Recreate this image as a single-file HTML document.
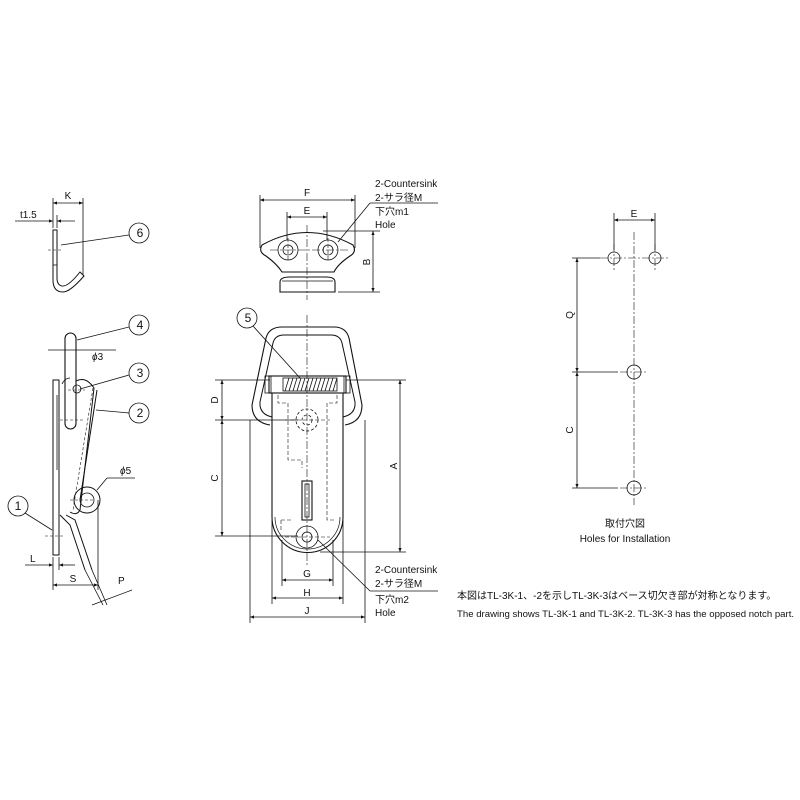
<!DOCTYPE html>
<html><head><meta charset="utf-8"><style>
html,body{margin:0;padding:0;background:#fff;}
svg{display:block}
text{font-family:"Liberation Sans","Noto Sans CJK JP",sans-serif;fill:#111}
</style></head><body>
<svg width="800" height="800" viewBox="0 0 800 800" xmlns="http://www.w3.org/2000/svg">
<defs>
<marker id="a" viewBox="0 0 10 10" refX="10" refY="5" markerWidth="7" markerHeight="5" orient="auto-start-reverse"><path d="M0,1L10,5L0,9z" fill="#111"/></marker>
</defs>
<g stroke="#111" fill="none" stroke-width="0.8">
<!-- ===== Right: holes for installation ===== -->
<g stroke-dasharray="8,2,2,2" stroke-width="0.6">
<line x1="634" y1="232" x2="634" y2="505"/>
<line x1="600" y1="258" x2="668" y2="258"/>
<line x1="614" y1="244" x2="614" y2="272"/>
<line x1="655" y1="244" x2="655" y2="272"/>
<line x1="620" y1="372" x2="648" y2="372"/>
<line x1="620" y1="488" x2="648" y2="488"/>
</g>
<circle cx="614" cy="258" r="6"/><circle cx="655" cy="258" r="6"/>
<circle cx="634" cy="372" r="7"/><circle cx="634" cy="488" r="7"/>
<line x1="614" y1="213" x2="614" y2="250"/><line x1="655" y1="213" x2="655" y2="250"/>
<line x1="614" y1="220" x2="655" y2="220" marker-start="url(#a)" marker-end="url(#a)"/>
<line x1="572" y1="258" x2="600" y2="258"/>
<line x1="572" y1="372" x2="618" y2="372"/>
<line x1="572" y1="488" x2="618" y2="488"/>
<line x1="577" y1="258" x2="577" y2="372" marker-start="url(#a)" marker-end="url(#a)"/>
<line x1="577" y1="372" x2="577" y2="488" marker-start="url(#a)" marker-end="url(#a)"/>

<!-- ===== Center top bracket ===== -->
<line x1="307" y1="225" x2="307" y2="300" stroke-dasharray="8,2,2,2" stroke-width="0.6"/>
<line x1="270" y1="250" x2="350" y2="250" stroke-dasharray="8,2,2,2" stroke-width="0.6"/>
<line x1="288" y1="238" x2="288" y2="262" stroke-dasharray="4,2" stroke-width="0.6"/>
<line x1="328" y1="238" x2="328" y2="262" stroke-dasharray="4,2" stroke-width="0.6"/>
<path d="M262,245 Q307,220 353,245 Q357,252 350,256 Q338,264 334,272 L282,272 Q277,264 266,256 Q258,252 262,245Z" stroke-width="1.1"/>
<circle cx="288" cy="250" r="10"/><circle cx="288" cy="250" r="5"/>
<circle cx="328" cy="250" r="10"/><circle cx="328" cy="250" r="5"/>
<path d="M280,292 L280,282 Q280,277 290,277 L326,277 Q335,277 335,282 L335,292 Z" stroke-width="1.1"/>
<line x1="282" y1="281" x2="333" y2="281"/>
<line x1="260" y1="195" x2="260" y2="248"/><line x1="355" y1="195" x2="355" y2="248"/>
<line x1="260" y1="200" x2="355" y2="200" marker-start="url(#a)" marker-end="url(#a)"/>
<line x1="287" y1="212" x2="287" y2="240"/><line x1="327" y1="212" x2="327" y2="240"/>
<line x1="287" y1="217" x2="327" y2="217" marker-start="url(#a)" marker-end="url(#a)"/>
<line x1="323" y1="231" x2="380" y2="231"/><line x1="338" y1="292" x2="380" y2="292"/>
<line x1="373" y1="231" x2="373" y2="292" marker-start="url(#a)" marker-end="url(#a)"/>
<line x1="338" y1="242" x2="370" y2="203"/><line x1="370" y1="203" x2="438" y2="203"/>

<!-- ===== Main body ===== -->
<line x1="307" y1="315" x2="307" y2="565" stroke-dasharray="8,2,2,2" stroke-width="0.6"/>
<!-- wire loop -->
<path d="M270,425 Q252,422 252,405 L266,338 Q269,327 282,327 L334,327 Q346,327 349,338 L362,405 Q362,422 345,425" stroke-width="1.1"/>
<path d="M272,417 Q259,414 260,402 L273,343 Q275,335 284,335 L331,335 Q340,335 342,343 L355,402 Q356,414 343,417" stroke-width="1"/>
<!-- body -->
<path d="M272,393 L272,517 A35.5,35.5 0 0 0 343,517 L343,393" stroke-width="1.1"/>
<path d="M275,517 A32.5,32 0 0 0 340,517" stroke-width="0.7"/>
<line x1="272" y1="393" x2="343" y2="393" stroke-width="1.1"/>
<!-- spring drum -->
<rect x="269" y="376" width="77" height="17" stroke-width="1.1"/>
<rect x="265" y="376" width="6" height="17"/><rect x="344" y="376" width="6" height="17"/>
<rect x="283" y="378" width="54" height="13"/>
<g stroke-width="0.8">
<line x1="285" y1="391" x2="289" y2="378"/><line x1="289" y1="391" x2="293" y2="378"/><line x1="293" y1="391" x2="297" y2="378"/><line x1="297" y1="391" x2="301" y2="378"/><line x1="301" y1="391" x2="305" y2="378"/><line x1="305" y1="391" x2="309" y2="378"/><line x1="309" y1="391" x2="313" y2="378"/><line x1="313" y1="391" x2="317" y2="378"/><line x1="317" y1="391" x2="321" y2="378"/><line x1="321" y1="391" x2="325" y2="378"/><line x1="325" y1="391" x2="329" y2="378"/><line x1="329" y1="391" x2="333" y2="378"/><line x1="333" y1="391" x2="337" y2="378"/>
</g>
<!-- hidden lines -->
<g stroke-dasharray="4,2" stroke-width="0.6">
<path d="M278,395 L278,403 L288,403 L288,460 L302,460 L302,468"/>
<path d="M337,395 L337,403 L327,403 L327,520 L335,520"/>
<path d="M281,520 L281,530 M281,520 L293,520"/>
<line x1="285" y1="420" x2="330" y2="420"/>
<line x1="285" y1="537" x2="330" y2="537"/>
</g>
<circle cx="307" cy="420" r="11" stroke-dasharray="3,2"/><circle cx="307" cy="420" r="5" stroke-dasharray="3,2"/>
<circle cx="307" cy="537" r="11"/><circle cx="307" cy="537" r="5"/>
<rect x="302" y="481" width="10" height="39" stroke-width="1.1"/>
<rect x="305" y="484" width="4" height="33"/>
<!-- dims -->
<line x1="215" y1="380" x2="270" y2="380"/><line x1="215" y1="420" x2="298" y2="420"/><line x1="215" y1="536" x2="298" y2="536"/>
<line x1="222" y1="380" x2="222" y2="420" marker-start="url(#a)" marker-end="url(#a)"/>
<line x1="222" y1="420" x2="222" y2="536" marker-start="url(#a)" marker-end="url(#a)"/>
<line x1="346" y1="380" x2="406" y2="380"/><line x1="320" y1="552" x2="406" y2="552"/>
<line x1="400" y1="380" x2="400" y2="552" marker-start="url(#a)" marker-end="url(#a)"/>
<line x1="282" y1="540" x2="282" y2="586"/><line x1="333" y1="540" x2="333" y2="586"/>
<line x1="282" y1="580" x2="333" y2="580" marker-start="url(#a)" marker-end="url(#a)"/>
<line x1="272" y1="520" x2="272" y2="604"/><line x1="343" y1="520" x2="343" y2="604"/>
<line x1="272" y1="598" x2="343" y2="598" marker-start="url(#a)" marker-end="url(#a)"/>
<line x1="250" y1="420" x2="250" y2="623"/><line x1="365" y1="420" x2="365" y2="623"/>
<line x1="250" y1="617" x2="365" y2="617" marker-start="url(#a)" marker-end="url(#a)"/>
<circle cx="247" cy="318" r="10"/>
<line x1="253" y1="326" x2="300" y2="378"/>
<line x1="318" y1="540" x2="370" y2="591"/><line x1="370" y1="591" x2="438" y2="591"/>

<!-- ===== Left: hook (6) ===== -->
<path d="M53,230 L53,280 Q53,292 63,292 Q70,292 84,276 L80,272 Q68,287 62,286 Q57,285 57,278 L57,230 Z" stroke-width="1"/>
<line x1="53" y1="265" x2="57" y2="265"/>
<line x1="48" y1="250" x2="62" y2="250" stroke-dasharray="3,2" stroke-width="0.6"/>
<line x1="53" y1="198" x2="53" y2="228"/><line x1="83" y1="198" x2="83" y2="275"/>
<line x1="53" y1="203" x2="83" y2="203" marker-start="url(#a)" marker-end="url(#a)"/>
<line x1="15" y1="221" x2="53" y2="221" marker-end="url(#a)"/><line x1="57" y1="215" x2="57" y2="228"/>
<line x1="75" y1="221" x2="57" y2="221" marker-end="url(#a)"/>
<circle cx="139" cy="233" r="10"/><line x1="129" y1="235" x2="61" y2="245"/>

<!-- ===== Left: side view ===== -->
<rect x="65" y="333" width="11" height="96" rx="5.5" stroke-width="1.1"/>
<rect x="53" y="380" width="6" height="175" stroke-width="1"/>
<line x1="57" y1="395" x2="57" y2="470"/>
<path d="M62,384 Q65,378 70,378" />
<path d="M76,381 Q86,376 94,388 L80,510 Q77,516 70,512" stroke-width="1"/>
<line x1="97" y1="390" x2="80" y2="500" stroke-width="1"/>
<line x1="93" y1="388" x2="73" y2="510" stroke-dasharray="3,2" stroke-width="0.6"/>
<circle cx="77" cy="389" r="4"/>
<circle cx="87" cy="500" r="13" stroke-width="1"/><circle cx="87" cy="500" r="7"/>
<path d="M66,515 L75,520 L92,570 M60,515 L70,525 L85,570" stroke-width="1"/>
<line x1="92" y1="570" x2="107" y2="605"/><line x1="85" y1="570" x2="103" y2="605"/>
<line x1="98" y1="500" x2="98" y2="590"/>
<line x1="60" y1="420" x2="85" y2="420" stroke-dasharray="3,2" stroke-width="0.6"/>
<line x1="68" y1="390" x2="85" y2="390" stroke-dasharray="3,2" stroke-width="0.6"/>
<line x1="70" y1="500" x2="95" y2="500" stroke-dasharray="3,2" stroke-width="0.6"/>
<line x1="45" y1="536" x2="65" y2="536" stroke-dasharray="3,2" stroke-width="0.6"/>
<line x1="48" y1="350" x2="116" y2="350"/>
<line x1="53" y1="557" x2="53" y2="590"/><line x1="59" y1="557" x2="59" y2="570"/>
<line x1="25" y1="565" x2="53" y2="565" marker-end="url(#a)"/><line x1="75" y1="565" x2="59" y2="565" marker-end="url(#a)"/>
<line x1="53" y1="585" x2="98" y2="585" marker-start="url(#a)" marker-end="url(#a)"/>
<line x1="92" y1="605" x2="132" y2="590"/>
<line x1="107" y1="478" x2="135" y2="478"/><line x1="107" y1="478" x2="97" y2="490"/>
<circle cx="139" cy="325" r="10"/><line x1="129" y1="327" x2="77" y2="340"/>
<circle cx="139" cy="373" r="10"/><line x1="129" y1="375" x2="80" y2="389"/>
<circle cx="139" cy="413" r="10"/><line x1="129" y1="413" x2="96" y2="410"/>
<circle cx="18" cy="506" r="10"/><line x1="25" y1="513" x2="52" y2="530"/>
</g>

<!-- ===== Text ===== -->
<g font-size="10">
<text x="140" y="237" text-anchor="middle" font-size="12">6</text>
<text x="140" y="329" text-anchor="middle" font-size="12">4</text>
<text x="140" y="377" text-anchor="middle" font-size="12">3</text>
<text x="140" y="417" text-anchor="middle" font-size="12">2</text>
<text x="18" y="510" text-anchor="middle" font-size="12">1</text>
<text x="248" y="322" text-anchor="middle" font-size="12">5</text>
<text x="68" y="199" text-anchor="middle">K</text>
<text x="20" y="218">t1.5</text>
<text x="92" y="360"><tspan font-style="italic">ϕ</tspan>3</text>
<text x="120" y="474"><tspan font-style="italic">ϕ</tspan>5</text>
<text x="30" y="562">L</text>
<text x="73" y="582" text-anchor="middle">S</text>
<text x="118" y="584">P</text>
<text x="307" y="196" text-anchor="middle">F</text>
<text x="307" y="214" text-anchor="middle">E</text>
<text x="370" y="262" transform="rotate(-90 370 262)" text-anchor="middle">B</text>
<text x="375" y="187">2-Countersink</text>
<text x="375" y="201">2-サラ径M</text>
<text x="375" y="215">下穴m1</text>
<text x="375" y="228">Hole</text>
<text x="218" y="400" transform="rotate(-90 218 400)" text-anchor="middle">D</text>
<text x="218" y="478" transform="rotate(-90 218 478)" text-anchor="middle">C</text>
<text x="397" y="466" transform="rotate(-90 397 466)" text-anchor="middle">A</text>
<text x="307" y="577" text-anchor="middle">G</text>
<text x="307" y="596" text-anchor="middle">H</text>
<text x="307" y="614" text-anchor="middle">J</text>
<text x="375" y="573">2-Countersink</text>
<text x="375" y="587">2-サラ径M</text>
<text x="375" y="603">下穴m2</text>
<text x="375" y="616">Hole</text>
<text x="634" y="217" text-anchor="middle">E</text>
<text x="573" y="315" transform="rotate(-90 573 315)" text-anchor="middle">Q</text>
<text x="573" y="430" transform="rotate(-90 573 430)" text-anchor="middle">C</text>
<text x="625" y="527" text-anchor="middle">取付穴図</text>
<text x="625" y="542" text-anchor="middle">Holes for Installation</text>
<text x="457" y="599" font-size="10">本図はTL-3K-1、-2を示しTL-3K-3はベース切欠き部が対称となります。</text>
<text x="457" y="617" font-size="9.6">The drawing shows TL-3K-1 and TL-3K-2. TL-3K-3 has the opposed notch part.</text>
</g>
</svg>
</body></html>
